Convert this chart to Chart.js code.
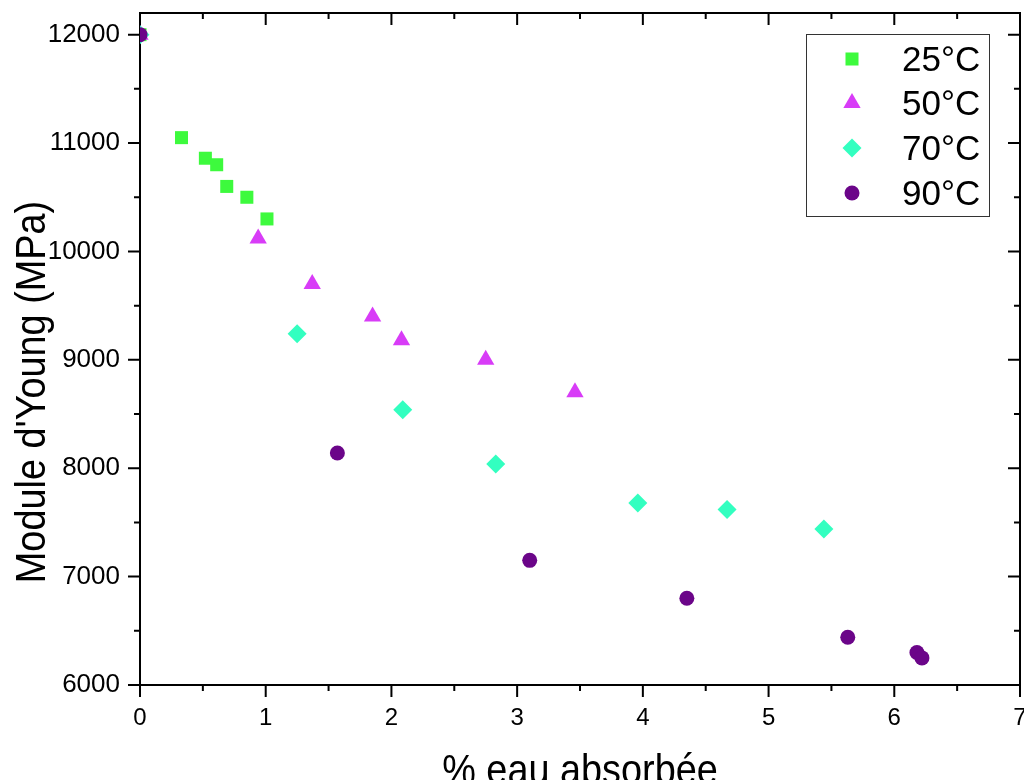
<!DOCTYPE html>
<html>
<head>
  <title>Module d'Young</title>
<script src="https://cdn.jsdelivr.net/npm/chart.js"></script>
<style>
  body { margin: 0; background: #fff; }
</style>
</head>
<body>
  <canvas id="myChart" width="1024" height="780"></canvas>
<script>
const serieLabels = ['25°C', '50°C', '70°C', '90°C'];

const eau25 = [0, 0.33, 0.52, 0.61, 0.69, 0.85, 1.01];
const module25 = [12000, 11050, 10860, 10800, 10600, 10500, 10300];

const eau50 = [0, 0.94, 1.37, 1.85, 2.08, 2.75, 3.46];
const module50 = [12000, 10120, 9700, 9400, 9180, 9000, 8700];

const eau70 = [0, 1.25, 2.09, 2.83, 3.96, 4.67, 5.44];
const module70 = [12000, 9240, 8540, 8040, 7680, 7620, 7440];

const eau90 = [0, 1.57, 3.10, 4.35, 5.63, 6.18, 6.22];
const module90 = [12000, 8140, 7150, 6800, 6440, 6300, 6250];

const xTicks = [0, 1, 2, 3, 4, 5, 6, 7];
const yTicks = [6000, 7000, 8000, 9000, 10000, 11000, 12000];

const xTitle = '% eau absorbée';
const yTitle = "Module d'Young (MPa)";

const FONT = "'Liberation Sans', Arial, sans-serif";

const styles = [
  { color: '#3dfa3d', pointStyle: 'rect', radius: 9.2 },
  { color: '#d83cf7', pointStyle: 'triangle', radius: 10 },
  { color: '#33ffc0', pointStyle: 'rectRot', radius: 9.5 },
  { color: '#6b0589', pointStyle: 'circle', radius: 7.5 }
];

const toPoints = (xs, ys) => xs.map((v, i) => ({ x: v, y: ys[i] }));
const series = [toPoints(eau25, module25), toPoints(eau50, module50),
                toPoints(eau70, module70), toPoints(eau90, module90)];

const datasets = series.map((pts, i) => ({
  label: serieLabels[i],
  data: pts,
  showLine: false,
  pointStyle: styles[i].pointStyle,
  pointRadius: styles[i].radius,
  pointHoverRadius: styles[i].radius,
  pointBackgroundColor: styles[i].color,
  pointBorderWidth: 0,
  clip: 0,
  order: 4 - i   // 90°C drawn on top
}));

const halfway = arr => arr.slice(1).map((v, i) => (v + arr[i]) / 2);

const noPad = s => {
  s.paddingLeft = 0; s.paddingRight = 0;
  s.paddingTop = 0; s.paddingBottom = 0;
};

// frame, inner/outer tick marks, axis titles and the boxed legend
const origineLook = {
  id: 'origineLook',
  afterDraw(chart) {
    const { ctx, chartArea: a, scales: { x, y } } = chart;
    ctx.save();
    ctx.strokeStyle = '#000';
    ctx.lineWidth = 2;
    ctx.beginPath();
    ctx.moveTo(a.left, a.top);
    ctx.lineTo(a.right, a.top);
    ctx.lineTo(a.right, a.bottom);
    ctx.stroke();

    ctx.beginPath();
    const seg = (x1, y1, x2, y2) => { ctx.moveTo(x1, y1); ctx.lineTo(x2, y2); };
    xTicks.forEach(v => {
      const p = x.getPixelForValue(v);
      seg(p, a.bottom, p, a.bottom + 12);
      seg(p, a.top, p, a.top + 12);
    });
    halfway(xTicks).forEach(v => {
      const p = x.getPixelForValue(v);
      seg(p, a.bottom, p, a.bottom + 6);
      seg(p, a.top, p, a.top + 6);
    });
    yTicks.forEach(v => {
      const p = y.getPixelForValue(v);
      seg(a.left, p, a.left - 12, p);
      seg(a.right, p, a.right - 12, p);
    });
    halfway(yTicks).forEach(v => {
      const p = y.getPixelForValue(v);
      seg(a.left, p, a.left - 6, p);
      seg(a.right, p, a.right - 6, p);
    });
    ctx.stroke();

    // axis titles (slightly condensed like the original)
    ctx.fillStyle = '#000';
    ctx.font = '43px ' + FONT;
    ctx.textAlign = 'center';
    ctx.textBaseline = 'alphabetic';
    ctx.save();
    ctx.translate((a.left + a.right) / 2, 784);
    ctx.scale(0.88, 1);
    ctx.fillText(xTitle, 0, 0);
    ctx.restore();

    ctx.save();
    ctx.translate(45, 392);
    ctx.rotate(-Math.PI / 2);
    ctx.scale(0.88, 1);
    ctx.fillText(yTitle, 0, 0);
    ctx.restore();

    // legend box
    ctx.lineWidth = 1;
    ctx.strokeStyle = '#333';
    ctx.strokeRect(806.5, 34.5, 183, 182);
    const rows = [59, 103, 148, 193];
    ctx.font = '35px ' + FONT;
    ctx.textAlign = 'left';
    serieLabels.forEach((lab, i) => {
      ctx.fillStyle = styles[i].color;
      if (Chart.helpers && Chart.helpers.drawPoint) {
        Chart.helpers.drawPoint(ctx, {
          pointStyle: styles[i].pointStyle,
          radius: styles[i].radius,
          rotation: 0,
          borderWidth: 0
        }, 852, rows[i]);
      }
      ctx.fillStyle = '#000';
      ctx.fillText(lab, 902, rows[i] + 12);
    });
    ctx.restore();
  }
};

const config = {
  type: 'scatter',
  data: { datasets: datasets },
  options: {
    responsive: false,
    animation: false,
    events: [],
    layout: { autoPadding: false, padding: { top: 13, right: 4, left: 0, bottom: 0 } },
    plugins: {
      legend: { display: false },
      tooltip: { enabled: false }
    },
    scales: {
      x: {
        type: 'linear',
        position: 'bottom',
        min: 0,
        max: 7,
        afterBuildTicks: s => { s.ticks = xTicks.map(v => ({ value: v })); },
        afterFit: s => { s.height = 95; noPad(s); },
        grid: { display: false, drawTicks: false },
        border: { display: true, color: '#000', width: 2 },
        ticks: {
          color: '#000',
          padding: 19,
          maxRotation: 0,
          callback: v => String(v),
          font: { family: FONT, size: 24 }
        }
      },
      y: {
        type: 'linear',
        position: 'left',
        min: 6000,
        max: 12200,
        afterBuildTicks: s => { s.ticks = yTicks.map(v => ({ value: v })); },
        afterFit: s => { s.width = 140; noPad(s); },
        grid: { display: false, drawTicks: false },
        border: { display: true, color: '#000', width: 2 },
        ticks: {
          color: '#000',
          padding: 20,
          callback: v => String(v),
          font: { family: FONT, size: 26 }
        }
      }
    }
  },
  plugins: [origineLook]
};

const myChart = new Chart(document.getElementById('myChart'), config);
</script>
</body>
</html>
